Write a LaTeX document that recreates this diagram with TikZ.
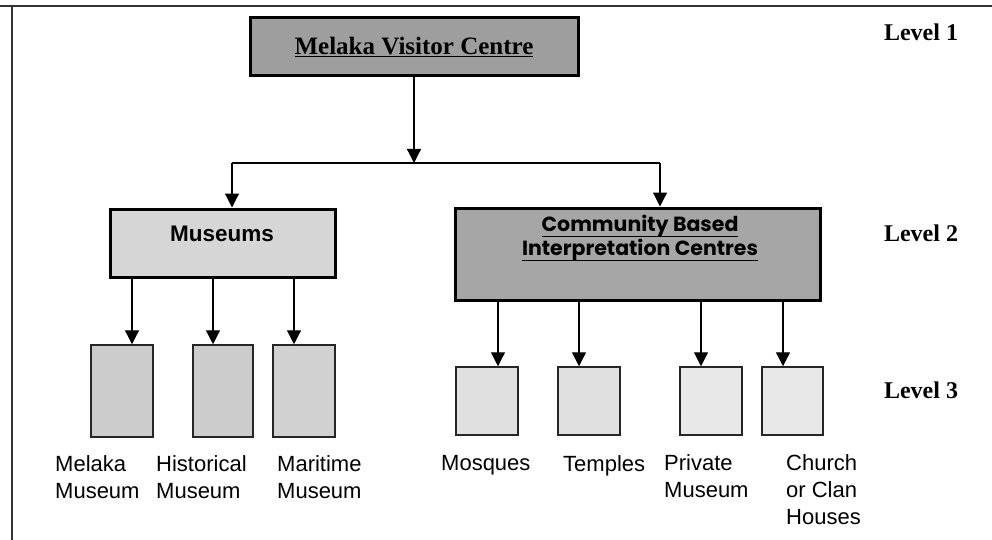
\documentclass[tikz,border=0pt]{standalone}
\usepackage{fontspec}
\setmainfont{Liberation Serif}
\setsansfont{Liberation Sans}
\newfontfamily\gothic{Poppins}
\usetikzlibrary{arrows.meta}
\newcommand\myul[1]{\underline{\raisebox{0pt}[\height][0pt]{#1}\rule[-4pt]{0pt}{4pt}}}
\begin{document}
\begin{tikzpicture}[x=1pt,y=-1pt,
  conn/.style={draw=black,line width=1.2pt},
  arr/.style={conn,-{Triangle[width=14pt,length=14pt]}},
  bigbox/.style={draw=black,line width=3pt,inner sep=0pt},
  smallbox/.style={draw=black!85,line width=1.5pt,inner sep=0pt},
  lvl/.style={font=\rmfamily\bfseries\fontsize{24}{26}\selectfont,anchor=center},
  lbl/.style={font=\sffamily\fontsize{22}{27}\selectfont,align=left,anchor=north west,inner sep=0pt}]
\useasboundingbox (0,0) rectangle (992,540);
% frame
\draw[line width=1.5pt,black!80] (0,6) -- (992,6);
\draw[line width=1.5pt,black!80] (12,6) -- (12,540);
% level 1
\node[bigbox,fill=black!38,minimum width=328pt,minimum height=58pt] (vc) at (414,47) {};
\node[font=\rmfamily\bfseries\fontsize{25}{28}\selectfont] (vct) at (vc.center) {\underline{Melaka Visitor Centre}};
% level 2
\node[bigbox,fill=black!16,minimum width=225pt,minimum height=68pt] (mu) at (222.5,243) {};
\node[font=\sffamily\bfseries\fontsize{22.5}{24}\selectfont] (mut) at (222,234) {Museums};
\node[bigbox,fill=black!35,minimum width=365pt,minimum height=92pt] (cb) at (637.5,254) {};
\node[font=\gothic\bfseries\fontsize{20.5}{24}\selectfont,align=center] (cbt) at (640,238) {\myul{Community Based}\\\myul{Interpretation Centres}};
% level 3 museums
\node[smallbox,fill=black!20,minimum width=62pt,minimum height=92pt] (m1) at (122,391) {};
\node[smallbox,fill=black!20,minimum width=60pt,minimum height=92pt] (m2) at (223,391) {};
\node[smallbox,fill=black!18,minimum width=62pt,minimum height=92pt] (m3) at (304,391) {};
% level 3 community
\node[smallbox,fill=black!12,minimum width=62pt,minimum height=68pt] (c1) at (487,401) {};
\node[smallbox,fill=black!12,minimum width=62pt,minimum height=68pt] (c2) at (589,401) {};
\node[smallbox,fill=black!9,minimum width=62pt,minimum height=68pt] (c3) at (711,401) {};
\node[smallbox,fill=black!9,minimum width=61pt,minimum height=68pt] (c4) at (792.5,401) {};
% connectors
\coordinate (j) at (414,163);
\coordinate (jl) at (232,163);
\coordinate (jr) at (660,163);
\draw[arr] (vc.south) -- (j);
\draw[conn] (jl) -- (jr);
\draw[arr] (jl) -- (jl |- mu.north);
\draw[arr] (jr) -- (jr |- cb.north);
\draw[arr] (mu.south -| m1.north) ++(10,0) -- ([xshift=10pt]m1.north);
\draw[arr] (mu.south -| m2.north) ++(-10,0) -- ([xshift=-10pt]m2.north);
\draw[arr] (mu.south -| m3.north) ++(-10,0) -- ([xshift=-10pt]m3.north);
\draw[arr] ([xshift=11pt]cb.south -| c1.north) -- ([xshift=11pt]c1.north);
\draw[arr] ([xshift=-10pt]cb.south -| c2.north) -- ([xshift=-10pt]c2.north);
\draw[arr] ([xshift=-10pt]cb.south -| c3.north) -- ([xshift=-10pt]c3.north);
\draw[arr] ([xshift=-9.5pt]cb.south -| c4.north) -- ([xshift=-9.5pt]c4.north);
% labels
\node[lbl] (l1) at (55,455) {Melaka\\Museum};
\node[lbl] (l2) at (156,455) {Historical\\Museum};
\node[lbl] (l3) at (277,455) {Maritime\\Museum};
\node[lbl] (l4) at (441,455) {Mosques};
\node[lbl] (l5) at (563,455) {Temples};
\node[lbl] (l6) at (664,454) {Private\\Museum};
\node[lbl] (l7) at (786,454) {Church\\or Clan\\Houses};
% level labels
\node[lvl] (lv1) at (921,32) {Level 1};
\node[lvl] (lv2) at (921,233) {Level 2};
\node[lvl] (lv3) at (921,390) {Level 3};
\end{tikzpicture}
\end{document}
